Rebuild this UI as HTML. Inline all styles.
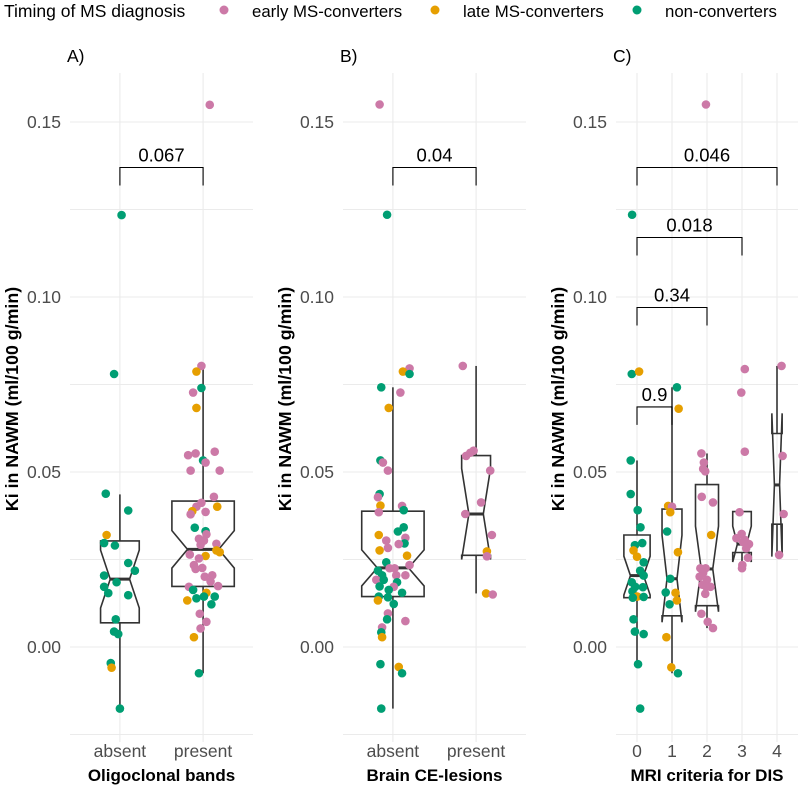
<!DOCTYPE html>
<html><head><meta charset="utf-8">
<style>
html,body{margin:0;padding:0;background:#fff;}
svg{display:block;font-family:"Liberation Sans",Arial,sans-serif;}
</style></head>
<body>
<svg id="chart" width="800" height="791" viewBox="0 0 800 791" xmlns="http://www.w3.org/2000/svg">
  <g>
    <text x="4" y="17" font-size="17.5" fill="#000">Timing of MS diagnosis</text>
    <circle cx="224" cy="10" r="4.5" fill="#CC79A7"></circle>
    <text x="252" y="17" font-size="16.8" fill="#000">early MS-converters</text>
    <circle cx="435" cy="10" r="4.5" fill="#E69F00"></circle>
    <text x="463" y="17" font-size="16.8" fill="#000">late MS-converters</text>
    <circle cx="637" cy="10" r="4.5" fill="#009E73"></circle>
    <text x="665" y="17" font-size="16.8" fill="#000">non-converters</text>
  </g>
</svg>
<script>
// ---- data ----
const yTicks = [0.00, 0.05, 0.10, 0.15];
const yTickLabels = ["0.00", "0.05", "0.10", "0.15"];
const yMinor = [-0.025, 0.025, 0.075, 0.125];

const panelACategories = ["absent", "present"];
const panelBCategories = ["absent", "present"];
const panelCCategories = ["0", "1", "2", "3", "4"];

// points: [value, jitter (category units), group]
const panelAPoints0 = [[0.1234,0.02,'n'],[0.078,-0.07,'n'],[0.0438,-0.17,'n'],[0.039,0.10,'n'],[0.032,-0.16,'l'],[0.0297,-0.19,'n'],[0.029,-0.06,'n'],[0.024,0.10,'n'],[0.0218,0.18,'n'],[0.0204,-0.19,'n'],[0.0185,-0.04,'n'],[0.0172,-0.19,'n'],[0.0154,-0.14,'n'],[0.0148,0.10,'n'],[0.0079,-0.05,'n'],[0.0044,-0.07,'n'],[0.0037,-0.02,'n'],[-0.0046,-0.11,'n'],[-0.0059,-0.10,'l'],[-0.0176,0,'n']];
const panelAPoints1 = [[0.1549,0.08,'e'],[0.0803,-0.02,'e'],[0.0787,-0.08,'l'],[0.074,-0.02,'n'],[0.0727,-0.12,'e'],[0.0683,-0.08,'l'],[0.0548,-0.18,'e'],[0.0553,-0.09,'e'],[0.0558,0.14,'e'],[0.0533,0,'n'],[0.0527,0.03,'e'],[0.0504,-0.15,'e'],[0.0504,0.20,'e'],[0.0429,0.13,'e'],[0.0412,-0.02,'e'],[0.0401,-0.08,'e'],[0.0401,0.17,'l'],[0.0388,-0.13,'l'],[0.0386,0.03,'e'],[0.0379,-0.15,'e'],[0.0341,-0.10,'n'],[0.0331,0.03,'n'],[0.0322,0.04,'e'],[0.0309,-0.05,'e'],[0.0304,0.01,'e'],[0.0295,0.16,'e'],[0.0292,-0.03,'e'],[0.0276,0.16,'l'],[0.0271,0.20,'l'],[0.0264,-0.16,'e'],[0.026,0.03,'l'],[0.0253,-0.05,'e'],[0.0234,-0.11,'e'],[0.0226,-0.01,'e'],[0.0223,-0.09,'e'],[0.0201,0.02,'e'],[0.0205,0.11,'e'],[0.0187,0.09,'e'],[0.0174,0.18,'e'],[0.0172,-0.17,'e'],[0.0163,-0.12,'n'],[0.0155,0.04,'l'],[0.0139,-0.08,'n'],[0.0144,0.01,'n'],[0.0144,0.14,'n'],[0.0133,-0.19,'l'],[0.0122,0.10,'n'],[0.0095,-0.04,'e'],[0.0072,0.04,'e'],[0.0053,-0.03,'e'],[0.0028,-0.11,'l'],[-0.0075,-0.05,'n']];
const panelBPoints0 = [[0.155,-0.16,'e'],[0.1235,-0.07,'n'],[0.0796,0.20,'e'],[0.0787,0.12,'l'],[0.078,0.20,'n'],[0.0742,-0.14,'n'],[0.0727,0.09,'e'],[0.0683,-0.05,'l'],[0.0533,-0.15,'n'],[0.0527,-0.12,'e'],[0.0504,-0.06,'e'],[0.0437,-0.16,'n'],[0.0428,-0.18,'e'],[0.0404,-0.15,'l'],[0.0403,0.11,'e'],[0.0391,0.13,'n'],[0.0385,-0.17,'e'],[0.0342,0.13,'n'],[0.033,0.06,'n'],[0.032,-0.17,'l'],[0.0312,0.15,'e'],[0.0304,-0.08,'e'],[0.0296,0.14,'n'],[0.0294,0.07,'e'],[0.0283,-0.06,'e'],[0.0276,-0.16,'l'],[0.0261,0.17,'l'],[0.0234,0.20,'e'],[0.0242,-0.08,'n'],[0.0225,-0.04,'e'],[0.0225,0.02,'e'],[0.0218,-0.18,'n'],[0.0205,-0.13,'n'],[0.0205,0.04,'e'],[0.0205,0.15,'e'],[0.0192,-0.20,'e'],[0.0192,-0.11,'n'],[0.0185,0.05,'n'],[0.0173,-0.16,'n'],[0.0172,0.01,'e'],[0.0163,-0.05,'n'],[0.0155,0.11,'n'],[0.0144,-0.17,'n'],[0.0142,-0.06,'n'],[0.0133,-0.18,'l'],[0.0123,0.01,'n'],[0.0096,-0.06,'e'],[0.0079,-0.07,'n'],[0.0074,0.15,'e'],[0.0056,-0.13,'e'],[0.0042,-0.14,'n'],[0.0028,-0.13,'l'],[-0.0049,-0.15,'n'],[-0.0057,0.07,'l'],[-0.0075,0.11,'n'],[-0.0176,-0.14,'n']];
const panelBPoints1 = [[0.0803,-0.16,'e'],[0.0546,-0.12,'e'],[0.0555,-0.07,'e'],[0.0561,-0.03,'e'],[0.0504,0.17,'e'],[0.0413,0.06,'e'],[0.038,-0.13,'e'],[0.032,0.19,'e'],[0.0273,0.13,'l'],[0.0259,0.13,'e'],[0.0153,0.12,'l'],[0.015,0.20,'e']];
const panelCPoints0 = [[0.1235,-0.14,'n'],[0.078,-0.15,'n'],[0.0787,0.06,'l'],[0.0533,-0.18,'n'],[0.0437,-0.18,'n'],[0.0391,0.02,'n'],[0.0342,0.10,'n'],[0.0297,0.15,'n'],[0.0291,-0.06,'n'],[0.0276,-0.10,'l'],[0.0258,0,'l'],[0.0242,0.19,'n'],[0.0218,0.09,'n'],[0.0204,0.19,'n'],[0.0185,-0.15,'n'],[0.0172,-0.05,'n'],[0.0171,0.17,'n'],[0.0159,-0.13,'n'],[0.0144,0.01,'l'],[0.0141,-0.12,'n'],[0.0143,0.19,'n'],[0.0079,-0.10,'n'],[0.0044,-0.06,'n'],[0.0037,0.19,'n'],[-0.0049,0.03,'n'],[-0.0176,0.09,'n']];
const panelCPoints1 = [[0.0742,0.14,'n'],[0.0681,0.19,'l'],[0.0403,-0.11,'l'],[0.0401,0,'e'],[0.0385,-0.05,'l'],[0.033,-0.14,'n'],[0.0271,0.17,'l'],[0.0195,-0.05,'n'],[0.0155,0.10,'l'],[0.0156,-0.18,'n'],[0.0133,0.14,'l'],[0.0122,-0.07,'n'],[0.0028,-0.16,'l'],[-0.0058,-0.02,'l'],[-0.0075,0.17,'n']];
const panelCPoints2 = [[0.155,-0.03,'e'],[0.0553,-0.16,'e'],[0.0527,-0.09,'e'],[0.0509,-0.11,'e'],[0.0502,-0.05,'e'],[0.0429,-0.15,'e'],[0.0413,0.17,'e'],[0.032,0.12,'l'],[0.0225,-0.19,'e'],[0.0225,-0.04,'e'],[0.0212,-0.11,'e'],[0.0201,-0.21,'e'],[0.0192,0,'e'],[0.0178,-0.13,'e'],[0.0172,-0.02,'e'],[0.0172,0.10,'e'],[0.0152,-0.05,'e'],[0.0095,-0.16,'e'],[0.0072,0.02,'e'],[0.0054,0.17,'e']];
const panelCPoints3 = [[0.0794,0.08,'e'],[0.0727,-0.02,'e'],[0.0558,0.08,'e'],[0.0385,-0.07,'e'],[0.0323,-0.01,'e'],[0.0311,-0.16,'e'],[0.0306,0.08,'e'],[0.0294,0.20,'e'],[0.03,0.03,'e'],[0.0282,0.12,'e'],[0.0255,0.17,'e'],[0.0234,0.01,'e'],[0.0225,0,'e']];
const panelCPoints4 = [[0.0803,0.13,'e'],[0.0546,0.16,'e'],[0.038,0.19,'e'],[0.0263,0.06,'e']];

// box stats: [lowerWhisker, q1, median, q3, upperWhisker]
const panelABoxes = [[-0.0176,0.0069,0.0194,0.0303,0.0436],[-0.0075,0.0173,0.0279,0.0417,0.0803]];
const panelBBoxes = [[-0.0176,0.0144,0.0226,0.0388,0.0742],[0.0153,0.0262,0.038,0.0547,0.0803]];
const panelCBoxes = [[-0.0049,0.0141,0.0204,0.032,0.0533],[-0.0075,0.0089,0.0195,0.0394,0.0742],[0.0054,0.0118,0.0223,0.0464,0.0553],[0.0225,0.027,0.0294,0.0387,0.0387],[0.0263,0.0351,0.0463,0.061,0.0803]];

// brackets: [fromIndex, toIndex, yValue, label]
const panelABrackets = [[0,1,0.137,"0.067"]];
const panelBBrackets = [[0,1,0.137,"0.04"]];
const panelCBrackets = [[0,4,0.137,"0.046"],[0,3,0.117,"0.018"],[0,2,0.097,"0.34"],[0,1,0.0686,"0.9"]];

// ---- drawing ----
const NS = "http://www.w3.org/2000/svg";
const svg = document.getElementById("chart");
const colors = {e:"#CC79A7", l:"#E69F00", n:"#009E73"};
const groupNames = {e:"early", l:"late", n:"non"};
function yScale(v){ return 647 - 3500*v; }
function mk(tag, attrs, parent){
  const el = document.createElementNS(NS, tag);
  for (const k in attrs) el.setAttribute(k, attrs[k]);
  (parent||svg).appendChild(el);
  return el;
}

function drawPanel(p){
  const g = mk("g", {});
  
  
  const band = (p.x1 - p.x0) / (p.cats.length + 0.2);
  const xScale = i => p.x0 + band*(0.6 + i);
  // grid
  yMinor.concat(yTicks).forEach(v => {
    const l = mk("line", {x1:p.x0, x2:p.x1, y1:yScale(v), y2:yScale(v), stroke:"#ebebeb", "stroke-width":1.1}, g);
    
    
  });
  p.cats.forEach((c,i) => {
    const l = mk("line", {x1:xScale(i), x2:xScale(i), y1:73, y2:742, stroke:"#ebebeb", "stroke-width":1.1}, g);
    
    
    const t = mk("text", {x:xScale(i), y:757, "font-size":17.5, fill:"#4d4d4d", "text-anchor":"middle"}, g);
    t.textContent = c;
    
    
  });
  yTicks.forEach((v,i) => {
    const t = mk("text", {x:p.x0-9, y:yScale(v)+6, "font-size":17.5, fill:"#4d4d4d", "text-anchor":"end"}, g);
    t.textContent = yTickLabels[i];
    
    
  });
  // titles
  const pt = mk("text", {x:p.x0-3, y:62, "font-size":17.5, fill:"#000"}, g);
  pt.textContent = p.id + ")";
  
  
  const xt = mk("text", {x:(p.x0+p.x1)/2, y:781, "font-size":17, "font-weight":"bold", fill:"#000", "text-anchor":"middle"}, g);
  xt.textContent = p.xTitle;
  
  
  const yx = p.x0 - 52, yy = 399;
  const yt = mk("text", {x:yx, y:yy, "font-size":17.8, "font-weight":"bold", fill:"#000", "text-anchor":"middle", transform:`rotate(-90 ${yx} ${yy})`}, g);
  yt.textContent = "Ki in NAWM (ml/100 g/min)";
  
  
  // boxes
  const nMax = Math.max(...p.points.map(a=>a.length));
  p.boxes.forEach((b,i) => {
    const n = p.points[i].length;
    const w = 0.75*band*Math.sqrt(n/nMax);
    const cx = xScale(i), xmin = cx-w/2, xmax = cx+w/2;
    const iqr = b[3]-b[1];
    const nu = b[2] + 1.58*iqr/Math.sqrt(n), nl = b[2] - 1.58*iqr/Math.sqrt(n);
    const inset = w/4;
    const bg = mk("g", {}, g);
    
    
    mk("line", {x1:cx, x2:cx, y1:yScale(b[3]), y2:yScale(b[4]), stroke:"#333", "stroke-width":1.6}, bg);
    mk("line", {x1:cx, x2:cx, y1:yScale(b[1]), y2:yScale(b[0]), stroke:"#333", "stroke-width":1.6}, bg);
    const pts = [[xmin,b[3]],[xmin,nu],[xmin+inset,b[2]],[xmin,nl],[xmin,b[1]],[xmax,b[1]],[xmax,nl],[xmax-inset,b[2]],[xmax,nu],[xmax,b[3]]];
    mk("polygon", {points: pts.map(q=>q[0]+","+yScale(q[1])).join(" "), fill:"none", stroke:"#333", "stroke-width":1.6, "stroke-linejoin":"miter"}, bg);
    mk("line", {x1:xmin+inset, x2:xmax-inset, y1:yScale(b[2]), y2:yScale(b[2]), stroke:"#333", "stroke-width":3}, bg);
  });
  // points
  p.points.forEach((arr,i) => {
    arr.forEach(pt => {
      const c = mk("circle", {cx:xScale(i)+pt[1]*band, cy:yScale(pt[0]), r:4.3, fill:colors[pt[2]]}, g);
      
      
    });
  });
  // brackets
  p.brackets.forEach(br => {
    const xa = xScale(br[0]), xb = xScale(br[1]), y = yScale(br[2]), y2 = y + 18;
    const path = mk("path", {d:`M${xa},${y2} L${xa},${y} L${xb},${y} L${xb},${y2}`, fill:"none", stroke:"#000", "stroke-width":1.1}, g);
    
    
    const t = mk("text", {x:(xa+xb)/2, y:y-6, "font-size":18.5, fill:"#000", "text-anchor":"middle"}, g);
    t.textContent = br[3];
    
    
  });
}

drawPanel({id:"A", x0:70, x1:253, cats:panelACategories, points:[panelAPoints0,panelAPoints1], boxes:panelABoxes, brackets:panelABrackets, xTitle:"Oligoclonal bands"});
drawPanel({id:"B", x0:343, x1:526, cats:panelBCategories, points:[panelBPoints0,panelBPoints1], boxes:panelBBoxes, brackets:panelBBrackets, xTitle:"Brain CE-lesions"});
drawPanel({id:"C", x0:616, x1:798, cats:panelCCategories, points:[panelCPoints0,panelCPoints1,panelCPoints2,panelCPoints3,panelCPoints4], boxes:panelCBoxes, brackets:panelCBrackets, xTitle:"MRI criteria for DIS"});
</script>
</body></html>
